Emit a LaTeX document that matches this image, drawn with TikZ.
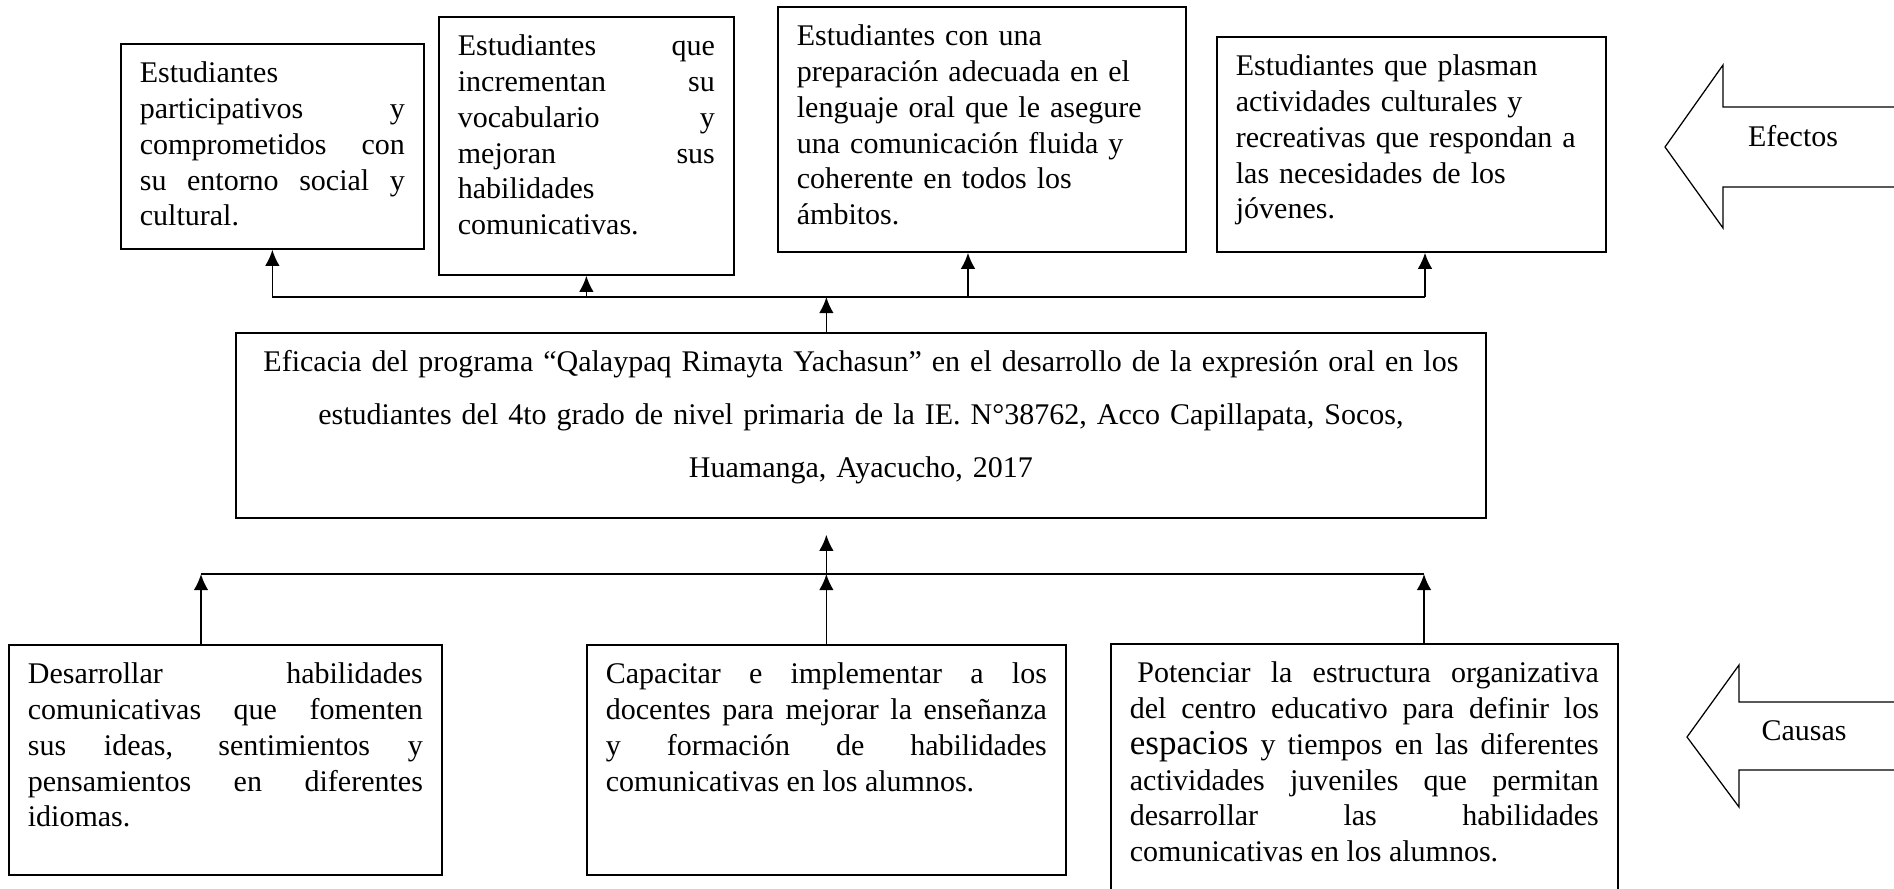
\documentclass[tikz,border=0pt]{standalone}
\usepackage{fontspec}
\setmainfont{Liberation Serif}
\usetikzlibrary{arrows.meta}
\tikzset{>={Latex[length=6.4pt,width=5.8pt]}}
\tikzset{
  box/.style={draw, line width=0.7pt, anchor=north west, inner xsep=7.6pt, inner ysep=0pt, text height=15.6pt, font={\fontsize{12}{14.3}\selectfont}},
  link/.style={line width=0.7pt},
  bigarrow/.style={draw, line width=0.5pt, line join=miter},
  tag/.style={anchor=base, font={\fontsize{12}{14.3}\selectfont}}
}
\hyphenpenalty=10000

\begin{document}
\begin{tikzpicture}[x=0.4pt, y=-0.4pt]
      \useasboundingbox (0,0) rectangle (1894,888);
      \node[box, text width=106pt, text depth=66.4pt, align=justify] (e1) at (120,43) {Estudiantes\linebreak participativos y\linebreak comprometidos con\linebreak su entorno social y\linebreak cultural.};
      \node[box, text width=102.8pt, text depth=87.6pt, align=justify] (e2) at (438,16) {Estudiantes que\linebreak incrementan su\linebreak vocabulario y\linebreak mejoran sus\linebreak habilidades\linebreak comunicativas.};
      \node[box, text width=148pt, text depth=82.4pt, align=left] (e3) at (777,6) {Estudiantes con una\\ preparación adecuada en el\\ lenguaje oral que le asegure\\ una comunicación fluida y\\ coherente en todos los\\ ámbitos.};
      \node[box, text width=140.4pt, text depth=70.4pt, align=left] (e4) at (1216,36) {Estudiantes que plasman\\ actividades culturales y\\ recreativas que respondan a\\ las necesidades de los\\ jóvenes.};
      \node[box, text width=484.8pt, text depth=58.4pt, align=center, font={\fontsize{12}{21.2}\selectfont}] (n0) at (235,332) {Eficacia del programa “Qalaypaq Rimayta Yachasun” en el desarrollo de la expresión oral en los\\ estudiantes del 4to grado de nivel primaria de la IE. N°38762, Acco Capillapata, Socos,\\ Huamanga, Ayacucho, 2017};
      \node[box, text width=158pt, text depth=76.4pt, align=justify] (c1) at (8,644) {Desarrollar habilidades\linebreak comunicativas que fomenten\linebreak sus ideas, sentimientos y\linebreak pensamientos en diferentes\linebreak idiomas.};
      \node[box, text width=176.4pt, text depth=76.4pt, align=justify] (c2) at (586,644) {Capacitar e implementar a los\linebreak docentes para mejorar la enseñanza\linebreak y formación de habilidades\linebreak comunicativas en los alumnos.};
      \node[box, text width=187.6pt, text depth=87.2pt, align=justify] (c3) at (1110,643) {\hspace*{0.25em}Potenciar la estructura organizativa\linebreak del centro educativo para definir los\linebreak {\fontsize{14}{14.3}\selectfont espacios} y tiempos en las diferentes\linebreak actividades juveniles que permitan\linebreak desarrollar las habilidades\linebreak comunicativas en los alumnos.};
      \coordinate (aux1) at (968,297);
      \coordinate (aux2) at (1425,297);
      \coordinate (aux3) at (201,574);
      \coordinate (aux4) at (1424,574);
      \draw[link] (e1.south |- aux1) -- (aux2);
      \draw[link, ->] (e1.south |- aux1) -- (e1.south);
      \draw[link, ->] (e2.south |- aux1) -- (e2.south);
      \draw[link, ->] (aux1) -- (aux1 |- e3.south);
      \draw[link, ->] (aux2) -- (aux2 |- e4.south);
      \draw[link, ->] (n0.north -| c2.north) -- (aux1 -| c2.north);
      \draw[link] (aux3) -- (aux4);
      \draw[link, ->] (aux3 |- c1.north) -- (aux3);
      \draw[link, ->] (c2.north) -- (c2.north |- aux3);
      \draw[link, ->] (aux4 |- c3.north) -- (aux4);
      \draw[link, ->] (c2.north |- aux3) -- ([yshift=-6.4pt]c2.north |- n0.south);
      \draw[bigarrow] (1665,147) -- (1723,65) -- (1723,107) -- (1910,107) -- (1910,187) -- (1723,187) -- (1723,228) -- cycle;
      \node[tag] (ef) at (1793,146) {Efectos};
      \draw[bigarrow] (1687,737) -- (1739,665) -- (1739,702) -- (1910,702) -- (1910,770) -- (1739,770) -- (1739,807) -- cycle;
      \node[tag] (ca) at (1804,740) {Causas};
\end{tikzpicture}
\end{document}
